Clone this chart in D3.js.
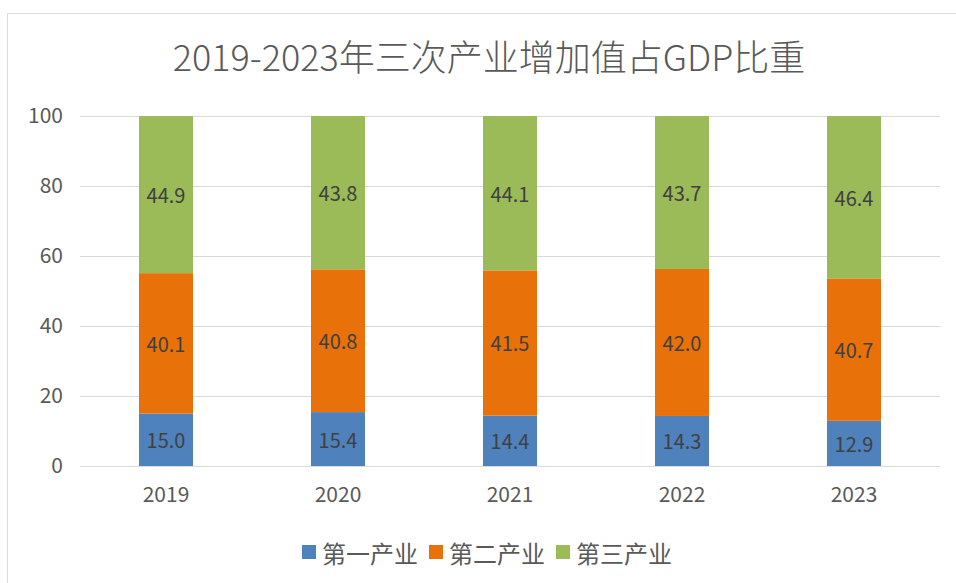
<!DOCTYPE html>
<html>
<head>
<meta charset="utf-8">
<script src="https://cdn.jsdelivr.net/npm/d3@7"></script>
<style>
  body { margin: 0; background: #fff; }
  text { font-family: "Noto Sans CJK SC", "Noto Sans", sans-serif; }
</style>
</head>
<body>
<div id="container"></div>
<script>
/* DATA */
const years = ["2019", "2020", "2021", "2022", "2023"]
const primary = [15.0, 15.4, 14.4, 14.3, 12.9]     // 第一产业
const secondary = [40.1, 40.8, 41.5, 42.0, 40.7]   // 第二产业
const tertiary = [44.9, 43.8, 44.1, 43.7, 46.4]    // 第三产业
const seriesNames = ["第一产业", "第二产业", "第三产业"]
const yTicks = [0, 20, 40, 60, 80, 100]
const title = "2019-2023年三次产业增加值占GDP比重"

/* CONSTANTS AND GLOBALS */
const width = 956,
  height = 583,
  margin = { top: 116, bottom: 117, left: 80, right: 16 },
  colors = ["#4F81BD", "#E8710A", "#9BBB59"]

const rows = years.map((y, i) => ({
  year: y,
  [seriesNames[0]]: primary[i],
  [seriesNames[1]]: secondary[i],
  [seriesNames[2]]: tertiary[i]
}))

const stacked = d3.stack().keys(seriesNames)(rows)

/* SCALES */
const xScale = d3.scaleBand()
  .domain(years)
  .range([margin.left, width - margin.right])
  .paddingInner(0.686)
  .paddingOuter(0.343)

const yScale = d3.scaleLinear()
  .domain([0, 100])
  .range([height - margin.bottom, margin.top])

const colorScale = d3.scaleOrdinal().domain(seriesNames).range(colors)

/* HTML ELEMENTS */
const svg = d3.select("#container")
  .append("svg")
  .attr("width", width)
  .attr("height", height)

// chart frame
svg.append("rect")
  .attr("x", 7.5)
  .attr("y", 13.5)
  .attr("width", width + 10)
  .attr("height", height)
  .attr("fill", "#fff")
  .attr("stroke", "#d9d9d9")

// title
svg.append("text")
  .attr("x", 489)
  .attr("y", 71)
  .attr("text-anchor", "middle")
  .attr("font-size", 36)
  .attr("font-weight", 300)
  .attr("fill", "#595959")
  .text(title)

// gridlines + y labels
const yAxis = d3.axisLeft(yScale)
  .tickValues(yTicks)
  .tickSize(-(width - margin.left - margin.right))
  .tickPadding(17)

svg.append("g")
  .attr("transform", `translate(${margin.left},0)`)
  .call(yAxis)
  .call(g => g.select(".domain").remove())
  .call(g => g.selectAll("line").attr("stroke", "#d9d9d9"))
  .call(g => g.selectAll("text")
    .attr("font-size", 21)
    .attr("fill", "#595959"))

// x labels
const xAxis = d3.axisBottom(xScale).tickSize(0).tickPadding(21)

svg.append("g")
  .attr("transform", `translate(0,${height - margin.bottom})`)
  .call(xAxis)
  .call(g => g.select(".domain").remove())
  .call(g => g.selectAll("text")
    .attr("font-size", 21)
    .attr("fill", "#595959"))

// bars
const layers = svg.selectAll("g.layer")
  .data(stacked)
  .join("g")
  .attr("class", "layer")
  .attr("fill", d => colorScale(d.key))

layers.selectAll("rect")
  .data(d => d)
  .join("rect")
  .attr("x", d => xScale(d.data.year))
  .attr("y", d => yScale(d[1]))
  .attr("width", xScale.bandwidth())
  .attr("height", d => yScale(d[0]) - yScale(d[1]))

// data labels
layers.selectAll("text")
  .data(d => d.map(v => ({ v, key: d.key })))
  .join("text")
  .attr("x", d => xScale(d.v.data.year) + xScale.bandwidth() / 2)
  .attr("y", d => yScale((d.v[0] + d.v[1]) / 2))
  .attr("text-anchor", "middle")
  .attr("dominant-baseline", "central")
  .attr("font-size", 20)
  .attr("fill", "#404040")
  .text(d => d3.format(".1f")(d.v.data[d.key]))

// legend
const legend = svg.append("g")
  .attr("transform", "translate(302,552)")

const legendItem = legend.selectAll("g")
  .data(seriesNames)
  .join("g")
  .attr("transform", (d, i) => `translate(${i * 127},0)`)

legendItem.append("rect")
  .attr("x", 0)
  .attr("y", -7)
  .attr("width", 14)
  .attr("height", 14)
  .attr("fill", d => colorScale(d))

legendItem.append("text")
  .attr("x", 20)
  .attr("y", 0)
  .attr("dominant-baseline", "central")
  .attr("font-size", 24)
  .attr("fill", "#595959")
  .text(d => d)
</script>
</body>
</html>
